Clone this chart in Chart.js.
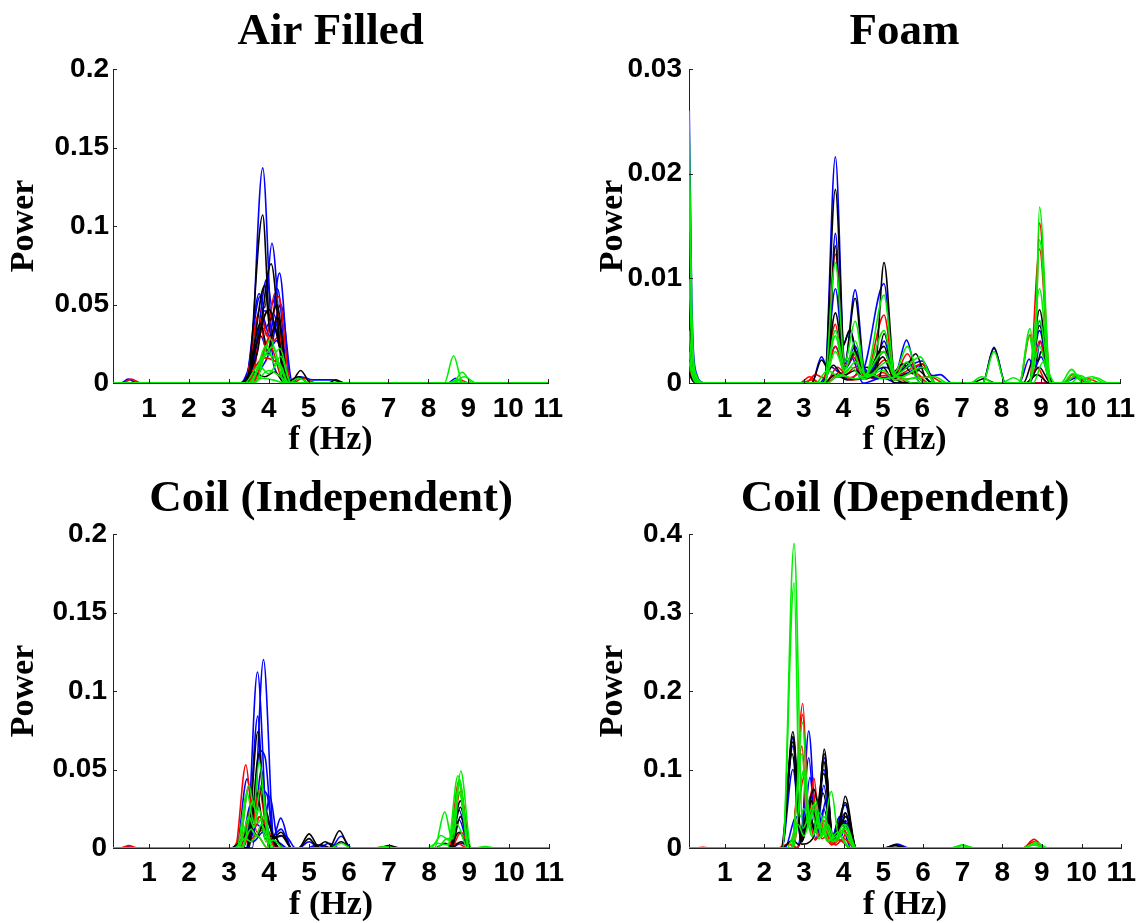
<!DOCTYPE html>
<html>
<head>
<meta charset="utf-8">
<title>Power spectra</title>
<script src="https://cdn.jsdelivr.net/npm/chart.js@4.4.0/dist/chart.umd.min.js"></script>
<style>
  html, body { margin: 0; padding: 0; background: #fff; }
  body { width: 1144px; height: 923px; position: relative; overflow: hidden; }
  canvas { position: absolute; }
</style>
</head>
<body>
<canvas id="airFilled" width="572" height="461" style="left:0;top:0"></canvas>
<canvas id="foam" width="568" height="461" style="left:576px;top:0"></canvas>
<canvas id="coilIndep" width="572" height="461" style="left:0;top:462px"></canvas>
<canvas id="coilDep" width="568" height="461" style="left:576px;top:462px"></canvas>
<script>
// Frequency axis
const xTickValues = [1, 2, 3, 4, 5, 6, 7, 8, 9, 10, 11];
const xTickLabels = ['1', '2', '3', '4', '5', '6', '7', '8', '9', '10', '11'];

// Power axes
const airTicks = [0, 0.05, 0.1, 0.15, 0.2];
const airTickLabels = ['0', '0.05', '0.1', '0.15', '0.2'];
const foamTicks = [0, 0.01, 0.02, 0.03];
const foamTickLabels = ['0', '0.01', '0.02', '0.03'];
const indepTicks = [0, 0.05, 0.1, 0.15, 0.2];
const indepTickLabels = ['0', '0.05', '0.1', '0.15', '0.2'];
const depTicks = [0, 0.1, 0.2, 0.3, 0.4];
const depTickLabels = ['0', '0.1', '0.2', '0.3', '0.4'];

// Spectra, [f (Hz), power] — Air Filled
const airBlue = [
  [[0.1,0],[0.3,0],[0.48,0.0025],[0.7,0],[3.5,0],[3.85,0.137],[4.12,0.012],[4.35,0.004],[4.6,0],[11,0]],
  [[0.1,0],[3.4,0],[3.76,0.057],[3.9,0.048],[4.08,0.089],[4.4,0],[11,0]],
  [[0.1,0],[3.5,0],[3.85,0.042],[4.02,0.03],[4.27,0.07],[4.55,0],[11,0]],
  [[0.1,0],[3.55,0],[3.95,0.066],[4.08,0.05],[4.22,0.06],[4.5,0],[11,0]],
  [[0.1,0],[3.3,0],[3.65,0.022],[3.9,0.046],[4.15,0.036],[4.55,0],[4.8,0.004],[5.1,0.002],[5.6,0.002],[5.9,0],[11,0]],
  [[0.1,0],[3.5,0],[3.9,0.013],[4.2,0.027],[4.5,0],[8.5,0],[8.68,0.003],[8.9,0],[11,0]],
  [[0.1,0],[3.45,0],[3.8,0.03],[4.0,0.018],[4.3,0.05],[4.6,0],[11,0]],
  [[0.1,0],[3.4,0],[3.78,0.055],[3.92,0.035],[4.12,0.044],[4.45,0],[11,0]]
];
const airRed = [
  [[0.1,0],[0.35,0],[0.55,0.0025],[0.8,0],[3.4,0],[3.79,0.047],[3.95,0.03],[4.15,0.057],[4.45,0],[11,0]],
  [[0.1,0],[3.5,0],[3.95,0.045],[4.06,0.04],[4.25,0.055],[4.55,0],[11,0]],
  [[0.1,0],[3.3,0],[3.6,0.006],[3.85,0.035],[4.1,0.021],[4.4,0],[11,0]],
  [[0.1,0],[3.6,0],[4.05,0.03],[4.12,0.027],[4.22,0.029],[4.5,0],[8.6,0],[8.8,0.002],[9.0,0],[11,0]],
  [[0.1,0],[3.3,0],[3.9,0.016],[4.3,0.011],[4.6,0],[4.85,0.003],[5.2,0],[11,0]],
  [[0.1,0],[3.4,0],[3.75,0.043],[3.95,0.02],[4.2,0.04],[4.5,0],[11,0]]
];
const airBlack = [
  [[0.1,0],[3.45,0],[3.85,0.107],[4.03,0.04],[4.2,0.05],[4.5,0],[11,0]],
  [[0.1,0],[3.3,0],[3.55,0.008],[3.72,0.02],[4.06,0.076],[4.4,0],[11,0]],
  [[0.1,0],[3.4,0],[3.75,0.03],[4.0,0.047],[4.3,0.02],[4.55,0],[4.8,0.008],[5.05,0],[11,0]],
  [[0.1,0],[3.4,0],[3.8,0.038],[3.98,0.02],[4.15,0.035],[4.5,0],[5.5,0],[5.68,0.002],[5.9,0],[11,0]],
  [[0.1,0],[3.35,0],[3.6,0.007],[3.9,0.004],[4.15,0.007],[4.4,0],[4.75,0.004],[5.0,0],[11,0]],
  [[0.1,0],[3.45,0],[3.9,0.062],[4.05,0.03],[4.22,0.042],[4.5,0],[11,0]]
];
const airGreen = [
  [[0.1,0],[3.65,0],[4.05,0.028],[4.18,0.02],[4.28,0.022],[4.55,0],[8.4,0],[8.63,0.0174],[8.86,0],[11,0]],
  [[0.1,0],[3.5,0],[3.85,0.015],[4.1,0.023],[4.4,0],[8.6,0],[8.85,0.0068],[9.1,0],[11,0]],
  [[0.1,0],[3.5,0],[3.92,0.018],[4.2,0.015],[4.5,0],[4.75,0.003],[5.05,0],[11,0]],
  [[0.1,0],[3.4,0],[3.75,0.011],[4.0,0.006],[4.25,0.013],[4.5,0],[8.6,0],[8.9,0.004],[9.2,0],[11,0]],
  [[0.1,0],[3.6,0],[4.0,0.008],[4.3,0.004],[4.5,0],[11,0]],
  [[0.1,0],[3.6,0],[3.82,0.003],[4.1,0.002],[4.4,0],[8.5,0],[8.72,0.002],[8.95,0],[11,0]],
  [[0.1,0],[3.55,0],[3.95,0.024],[4.15,0.012],[4.3,0.017],[4.55,0],[11,0]]
];

// Foam
const foamBlue = [
  [[0.1,0.028],[0.17,0.008],[0.28,0.001],[0.5,0],[3.52,0],[3.8,0.0216],[4.04,0.0018],[4.3,0.0089],[4.56,0.0008],[4.8,0.0015],[5.03,0.004],[5.3,0.0008],[5.6,0.0041],[5.85,0.0012],[6.0,0.0018],[6.34,0],[7.52,0],[7.81,0.0034],[8.1,0],[8.7,0],[8.96,0.005],[9.24,0],[11,0]],
  [[0.1,0.012],[0.17,0.004],[0.3,0.0005],[0.5,0],[3.2,0],[3.45,0.0025],[3.6,0.0015],[3.8,0.0143],[3.98,0.0035],[4.17,0.005],[4.45,0.001],[5.03,0.0095],[5.28,0.001],[6.0,0.0021],[6.34,0],[8.7,0],[8.96,0.0059],[9.24,0],[11,0]],
  [[0.1,0.006],[0.18,0.002],[0.3,0.0003],[0.5,0],[3.52,0],[3.8,0.009],[4.04,0.0015],[4.3,0.0035],[4.56,0.0006],[5.03,0.003],[5.3,0.0006],[5.65,0.002],[5.95,0],[8.45,0],[8.7,0.0023],[8.83,0.0012],[8.98,0.004],[9.24,0],[11,0]],
  [[0.1,0.004],[0.18,0.0012],[0.3,0.0002],[0.5,0],[3.5,0],[3.8,0.0035],[4.05,0.0014],[4.35,0.003],[4.6,0.0009],[5.05,0.0015],[5.5,0.0007],[6.0,0.0018],[6.25,0.0007],[6.45,0.0008],[6.75,0],[8.7,0],[9.0,0.0025],[9.26,0],[11,0]],
  [[0.1,0.003],[0.18,0.001],[0.3,0],[3.4,0],[3.7,0.0015],[3.95,0.0009],[4.2,0.0025],[4.5,0],[5.0,0.0005],[5.35,0],[9.55,0],[9.9,0.0005],[10.25,0],[11,0]],
  [[0.1,0.002],[0.2,0.0005],[0.35,0],[3.55,0],[3.85,0.0006],[4.2,0.0004],[4.5,0.0015],[4.75,0.0004],[5.8,0.001],[6.15,0],[11,0]]
];
const foamRed = [
  [[0.1,0.0075],[0.18,0.002],[0.3,0.0003],[0.5,0],[2.9,0],[3.15,0.0006],[3.4,0],[3.52,0],[3.8,0.0123],[4.04,0.0015],[4.3,0.0028],[4.56,0.0006],[5.03,0.0065],[5.3,0.0007],[5.62,0.0028],[5.9,0.0005],[6.15,0],[8.45,0],[8.72,0.0046],[8.84,0.0025],[8.96,0.0153],[9.24,0],[9.55,0],[9.8,0.0008],[10.1,0],[11,0]],
  [[0.1,0.004],[0.18,0.0012],[0.3,0.0002],[0.5,0],[3.05,0],[3.3,0.0008],[3.5,0.0005],[3.8,0.0056],[4.0,0.0014],[4.25,0.0025],[4.5,0.0007],[5.03,0.003],[5.3,0.0007],[6.0,0.0018],[6.34,0],[8.7,0],[8.96,0.0128],[9.24,0],[11,0]],
  [[0.1,0.002],[0.2,0.0005],[0.35,0],[3.5,0],[3.8,0.0035],[4.05,0.0008],[4.3,0.0015],[4.6,0.0005],[5.05,0.0022],[5.35,0.0005],[5.8,0.001],[6.15,0],[8.7,0],[8.96,0.004],[9.24,0],[9.55,0],[9.85,0.0006],[10.15,0],[11,0]],
  [[0.1,0.0015],[0.2,0.0004],[0.35,0],[3.55,0],[3.85,0.0015],[4.15,0.0005],[4.5,0.001],[4.75,0.0005],[5.0,0.001],[5.3,0.0003],[6.2,0.0006],[6.55,0],[8.65,0],[8.9,0.0015],[9.15,0],[11,0]],
  [[0.1,0.001],[0.2,0.0002],[0.35,0],[2.95,0],[3.2,0.0003],[3.45,0],[3.6,0],[3.9,0.001],[4.2,0.0003],[5.3,0.0008],[5.65,0],[9.95,0],[10.2,0.0004],[10.5,0],[11,0]]
];
const foamBlack = [
  [[0.1,0.008],[0.18,0.0025],[0.3,0.0004],[0.5,0],[3.52,0],[3.8,0.0185],[4.04,0.002],[4.3,0.0081],[4.54,0.001],[4.8,0.0012],[5.03,0.0115],[5.3,0.001],[5.6,0.0016],[5.83,0.0028],[6.08,0.0005],[6.35,0],[7.52,0],[7.81,0.0033],[8.1,0],[8.7,0],[8.96,0.007],[9.24,0],[11,0]],
  [[0.1,0.005],[0.18,0.0015],[0.3,0.0002],[0.5,0],[3.2,0],[3.45,0.0022],[3.6,0.0015],[3.8,0.0131],[3.98,0.0035],[4.17,0.0051],[4.4,0.0014],[4.6,0.0015],[4.8,0.0008],[5.03,0.0047],[5.3,0.0005],[5.65,0],[8.7,0],[8.96,0.0055],[9.24,0],[11,0]],
  [[0.1,0.003],[0.18,0.0009],[0.3,0],[3.52,0],[3.8,0.0067],[4.04,0.0015],[4.3,0.003],[4.55,0.0008],[5.03,0.0035],[5.25,0.001],[5.5,0.0018],[5.75,0.0009],[6.0,0.0015],[6.34,0],[8.55,0],[8.84,0.0025],[8.92,0.0021],[9.0,0.003],[9.3,0],[11,0]],
  [[0.1,0.002],[0.2,0.0005],[0.35,0],[3.45,0],[3.75,0.0017],[4.0,0.0007],[4.3,0.0012],[4.6,0.0004],[5.0,0.0025],[5.28,0.0005],[5.9,0.0012],[6.25,0],[8.65,0],[8.95,0.0015],[9.25,0],[11,0]],
  [[0.1,0.001],[0.2,0.0002],[0.35,0],[3.5,0],[3.8,0.0008],[4.1,0.0003],[4.8,0.0006],[4.9,0.0005],[5.0,0.0015],[5.3,0],[7.25,0],[7.55,0.0004],[7.85,0],[8.6,0],[8.9,0.0008],[9.2,0],[11,0]]
];
const foamGreen = [
  [[0.1,0.026],[0.17,0.007],[0.28,0.0008],[0.5,0],[3.52,0],[3.8,0.0115],[4.04,0.002],[4.3,0.0059],[4.56,0.0008],[5.03,0.0084],[5.3,0.001],[5.62,0.0035],[5.9,0.0006],[6.15,0],[7.52,0],[7.81,0.003],[8.1,0],[8.45,0],[8.72,0.0052],[8.84,0.0025],[8.96,0.0168],[9.24,0],[9.5,0],[9.77,0.0013],[10.0,0.0004],[10.3,0.0006],[10.6,0],[11,0]],
  [[0.1,0.02],[0.17,0.005],[0.28,0.0006],[0.5,0],[3.52,0],[3.8,0.005],[4.05,0.0014],[4.3,0.004],[4.56,0.0007],[5.03,0.005],[5.3,0.0007],[5.95,0.0025],[6.3,0],[8.45,0],[8.7,0.0045],[8.83,0.0025],[8.96,0.0137],[9.24,0],[9.55,0],[9.8,0.0009],[10.1,0],[11,0]],
  [[0.1,0.01],[0.18,0.003],[0.3,0.0004],[0.5,0],[3.52,0],[3.8,0.0045],[4.02,0.0012],[4.25,0.003],[4.5,0.0006],[5.03,0.003],[5.3,0.0006],[5.6,0.002],[5.95,0],[8.7,0],[8.96,0.009],[9.24,0],[9.75,0],[10.0,0.0007],[10.3,0],[11,0]],
  [[0.1,0.005],[0.18,0.0015],[0.3,0.0002],[0.5,0],[3.5,0],[3.8,0.003],[4.05,0.001],[4.3,0.002],[4.6,0.0006],[5.1,0.002],[5.4,0.0005],[6.0,0.0015],[6.35,0],[7.2,0],[7.5,0.0006],[7.8,0],[8.7,0],[8.96,0.006],[9.24,0],[9.6,0],[9.9,0.0008],[10.2,0],[11,0]],
  [[0.1,0.003],[0.18,0.0008],[0.3,0],[3.3,0],[3.6,0.0012],[3.9,0.0006],[4.2,0.0015],[4.5,0.0004],[5.0,0.0012],[5.3,0.0003],[6.3,0.0006],[6.65,0],[8.7,0],[8.96,0.0035],[9.24,0],[10.1,0],[10.4,0.0005],[10.7,0],[11,0]],
  [[0.1,0.002],[0.2,0.0005],[0.35,0],[3.6,0],[3.9,0.0008],[4.3,0.0004],[4.7,0.0008],[5.0,0.0004],[5.4,0.0006],[5.75,0],[8.0,0],[8.3,0.0005],[8.6,0],[8.8,0],[9.05,0.002],[9.35,0],[11,0]]
];

// Coil (Independent)
const indepBlue = [
  [[0.1,0],[0.3,0],[0.45,0.001],[0.6,0],[3.58,0],[3.86,0.12],[4.14,0],[11,0]],
  [[0.1,0],[3.43,0],[3.71,0.112],[3.99,0],[11,0]],
  [[0.1,0],[3.44,0],[3.72,0.084],[3.84,0.04],[3.95,0.034],[4.12,0.008],[4.29,0.019],[4.56,0],[11,0]],
  [[0.1,0],[3.18,0],[3.45,0.044],[3.6,0.025],[3.76,0.062],[3.9,0.058],[4.1,0.008],[4.3,0.012],[4.56,0],[4.74,0],[5.0,0.004],[5.26,0],[5.54,0],[5.8,0.0075],[6.06,0],[11,0]],
  [[0.1,0],[3.28,0],[3.55,0.028],[3.66,0.022],[3.8,0.05],[4.02,0.006],[4.4,0.008],[4.66,0],[5.24,0],[5.5,0.003],[5.76,0],[8.49,0],[8.75,0.024],[9.01,0],[11,0]],
  [[0.1,0],[3.44,0],[3.7,0.015],[3.85,0.012],[4.02,0.033],[4.2,0.006],[4.4,0],[8.54,0],[8.8,0.003],[9.06,0],[11,0]],
  [[0.1,0],[3.14,0],[3.4,0.006],[3.6,0.004],[3.85,0.01],[4.05,0.004],[4.2,0.004],[4.46,0],[4.94,0],[5.2,0.002],[5.46,0],[8.49,0],[8.75,0.018],[9.01,0],[11,0]]
];
const indepRed = [
  [[0.1,0],[0.3,0],[0.5,0.0015],[0.7,0],[3.15,0],[3.42,0.053],[3.6,0.018],[3.75,0.037],[4.02,0],[8.49,0],[8.75,0.041],[9.01,0],[11,0]],
  [[0.1,0],[3.24,0],[3.5,0.04],[3.65,0.018],[3.8,0.02],[4.06,0],[8.49,0],[8.75,0.043],[9.01,0],[11,0]],
  [[0.1,0],[3.34,0],[3.6,0.015],[3.68,0.014],[3.75,0.02],[4.0,0.01],[4.26,0],[8.54,0],[8.8,0.01],[9.06,0],[11,0]],
  [[0.1,0],[3.09,0],[3.35,0.01],[3.5,0.005],[3.7,0.008],[3.96,0],[6.64,0],[6.9,0.001],[7.16,0],[8.44,0],[8.7,0.003],[8.96,0],[11,0]],
  [[0.1,0],[3.29,0],[3.55,0.025],[3.7,0.01],[3.9,0.012],[4.16,0],[8.52,0],[8.78,0.036],[9.04,0],[11,0]]
];
const indepBlack = [
  [[0.1,0],[3.45,0],[3.72,0.074],[3.85,0.03],[3.95,0.022],[4.2,0],[4.74,0],[5.0,0.009],[5.26,0],[5.5,0],[5.76,0.011],[6.02,0],[8.52,0],[8.78,0.03],[9.04,0],[11,0]],
  [[0.1,0],[3.49,0],[3.75,0.06],[3.88,0.025],[4.0,0.015],[4.26,0],[4.74,0],[5.0,0.006],[5.2,0.001],[5.4,0.004],[5.66,0],[8.52,0],[8.78,0.026],[9.04,0],[11,0]],
  [[0.1,0],[3.34,0],[3.6,0.03],[3.7,0.024],[3.8,0.04],[4.02,0.005],[4.3,0.008],[4.56,0],[5.54,0],[5.8,0.004],[6.06,0],[8.14,0],[8.4,0.003],[8.57,0.001],[8.78,0.02],[9.04,0],[11,0]],
  [[0.1,0],[3.04,0],[3.3,0.005],[3.55,0.013],[3.7,0.008],[3.85,0.015],[4.05,0.005],[4.3,0.01],[4.56,0],[6.74,0],[7.0,0.0015],[7.26,0],[8.49,0],[8.75,0.01],[9.01,0],[11,0]],
  [[0.1,0],[3.44,0],[3.7,0.035],[3.9,0.006],[4.1,0.008],[4.36,0],[5.04,0],[5.3,0.002],[5.56,0],[8.54,0],[8.8,0.004],[9.06,0],[11,0]]
];
const indepGreen = [
  [[0.1,0],[3.24,0],[3.5,0.04],[3.62,0.026],[3.75,0.055],[4.01,0],[8.19,0],[8.45,0.006],[8.6,0.006],[8.79,0.049],[9.05,0],[11,0]],
  [[0.1,0],[3.19,0],[3.45,0.035],[3.62,0.016],[3.8,0.04],[4.06,0],[8.46,0],[8.72,0.046],[8.98,0],[11,0]],
  [[0.1,0],[3.34,0],[3.6,0.03],[3.72,0.016],[3.85,0.02],[4.11,0],[8.13,0],[8.39,0.023],[8.57,0.006],[8.75,0.044],[9.01,0],[11,0]],
  [[0.1,0],[3.24,0],[3.5,0.02],[3.62,0.013],[3.75,0.025],[3.92,0.004],[4.1,0.005],[4.36,0],[8.04,0],[8.3,0.008],[8.5,0.005],[8.75,0.035],[9.01,0],[11,0]],
  [[0.1,0],[3.29,0],[3.55,0.012],[3.68,0.008],[3.8,0.015],[4.06,0],[5.54,0],[5.8,0.003],[6.06,0],[7.94,0],[8.2,0.003],[8.45,0.002],[8.7,0.015],[8.96,0],[11,0]],
  [[0.1,0],[3.14,0],[3.4,0.006],[3.55,0.004],[3.7,0.008],[3.96,0],[6.64,0],[6.9,0.001],[7.16,0],[9.14,0],[9.4,0.001],[9.66,0],[11,0]]
];

// Coil (Dependent)
const depBlue = [
  [[0.1,0],[2.44,0],[2.72,0.14],[2.92,0.01],[3.12,0.149],[3.32,0.02],[3.51,0.115],[3.74,0.01],[4.04,0.055],[4.32,0],[5.05,0],[5.35,0.005],[5.65,0],[11,0]],
  [[0.1,0],[2.44,0],[2.72,0.13],[2.92,0.015],[3.12,0.115],[3.3,0.025],[3.5,0.1],[3.74,0.01],[4.04,0.045],[4.32,0],[11,0]],
  [[0.1,0],[2.52,0],[2.8,0.04],[2.96,0.01],[3.15,0.09],[3.32,0.02],[3.5,0.08],[3.7,0.012],[3.9,0.04],[3.97,0.03],[4.04,0.032],[4.32,0],[11,0]],
  [[0.1,0],[2.44,0],[2.72,0.1],[2.94,0.01],[3.2,0.07],[3.38,0.02],[3.55,0.06],[3.72,0.015],[3.9,0.04],[4.18,0],[11,0]],
  [[0.1,0],[2.82,0],[3.1,0.06],[3.3,0.012],[3.5,0.05],[3.7,0.008],[3.85,0.02],[3.95,0.015],[4.05,0.035],[4.32,0],[11,0]]
];
const depRed = [
  [[0.1,0],[0.3,0],[0.45,0.001],[0.6,0],[2.69,0],[2.97,0.184],[3.12,0.04],[3.25,0.089],[3.4,0.025],[3.5,0.035],[3.75,0.008],[4.0,0.023],[4.28,0],[8.52,0],[8.8,0.011],[9.08,0],[11,0]],
  [[0.1,0],[2.69,0],[2.97,0.17],[3.1,0.04],[3.2,0.075],[3.38,0.015],[3.5,0.03],[3.75,0.006],[4.0,0.02],[4.28,0],[8.52,0],[8.8,0.008],[9.08,0],[11,0]],
  [[0.1,0],[2.67,0],[2.95,0.13],[3.08,0.03],[3.2,0.06],[3.35,0.015],[3.5,0.025],[3.7,0.006],[3.85,0.012],[3.95,0.009],[4.05,0.018],[4.32,0],[11,0]],
  [[0.1,0],[2.72,0],[3.0,0.09],[3.15,0.04],[3.3,0.07],[3.45,0.012],[3.6,0.015],[3.8,0.004],[4.0,0.012],[4.28,0],[11,0]],
  [[0.1,0],[2.34,0],[2.6,0.005],[2.8,0.001],[2.84,0],[3.1,0.04],[3.28,0.01],[3.45,0.02],[3.7,0.004],[3.9,0.01],[4.16,0],[11,0]]
];
const depBlack = [
  [[0.1,0],[2.44,0],[2.72,0.148],[2.94,0.01],[3.2,0.06],[3.33,0.03],[3.51,0.126],[3.72,0.012],[3.85,0.012],[4.04,0.066],[4.32,0],[5.02,0],[5.3,0.004],[5.58,0],[11,0]],
  [[0.1,0],[2.44,0],[2.72,0.142],[2.94,0.008],[3.15,0.04],[3.3,0.02],[3.51,0.12],[3.74,0.01],[4.04,0.058],[4.32,0],[11,0]],
  [[0.1,0],[2.44,0],[2.72,0.135],[2.94,0.008],[3.25,0.075],[3.38,0.05],[3.5,0.11],[3.72,0.014],[3.9,0.03],[3.96,0.028],[4.04,0.045],[4.32,0],[5.02,0],[5.3,0.003],[5.58,0],[11,0]],
  [[0.1,0],[2.42,0],[2.7,0.12],[2.94,0.005],[3.22,0.012],[3.5,0.095],[3.74,0.01],[4.05,0.04],[4.32,0],[11,0]],
  [[0.1,0],[2.44,0],[2.72,0.01],[2.88,0.004],[3.1,0.05],[3.28,0.02],[3.48,0.07],[3.72,0.01],[4.0,0.035],[4.28,0],[11,0]]
];
const depGreen = [
  [[0.1,0],[2.46,0],[2.75,0.388],[2.97,0.025],[3.25,0.055],[3.45,0.015],[3.69,0.072],[3.88,0.015],[4.05,0.03],[4.32,0],[6.7,0],[7.0,0.004],[7.3,0],[11,0]],
  [[0.1,0],[2.46,0],[2.75,0.338],[2.9,0.04],[3.0,0.05],[3.2,0.015],[3.4,0.045],[3.62,0.01],[4.0,0.02],[4.28,0],[8.5,0],[8.8,0.004],[9.1,0],[11,0]],
  [[0.1,0],[2.69,0],[2.97,0.16],[3.13,0.03],[3.3,0.06],[3.45,0.015],[3.6,0.03],[3.8,0.008],[4.05,0.025],[4.32,0],[6.7,0],[7.0,0.003],[7.3,0],[11,0]],
  [[0.1,0],[2.67,0],[2.95,0.12],[3.1,0.03],[3.25,0.05],[3.38,0.025],[3.5,0.04],[3.75,0.008],[4.0,0.03],[4.28,0],[8.55,0],[8.85,0.007],[9.15,0],[11,0]],
  [[0.1,0],[2.57,0],[2.85,0.03],[3.0,0.015],[3.2,0.045],[3.38,0.012],[3.55,0.025],[3.72,0.008],[3.9,0.015],[4.18,0],[11,0]],
  [[0.1,0],[2.72,0],[3.0,0.1],[3.2,0.015],[3.4,0.03],[3.6,0.008],[3.85,0.02],[4.13,0],[8.5,0],[8.8,0.005],[9.1,0],[11,0]]
];

const COLORS = { blue: '#0000ff', red: '#ff0000', black: '#000000', green: '#00ee00' };
const TICK_FONT = { family: "'Liberation Sans', Arial, sans-serif", size: 28, weight: 'bold', lineHeight: 1.2 };
const LABEL_FONT = { family: "'Liberation Serif', 'Times New Roman', serif", size: 34, weight: 'bold', lineHeight: 1 };
const TITLE_FONT = { family: "'Liberation Serif', 'Times New Roman', serif", size: 45, weight: 'bold', lineHeight: 1.2 };

// Short inward tick marks on both axes
const innerTicks = {
  id: 'innerTicks',
  afterDraw(chart) {
    const { ctx, chartArea, scales } = chart;
    ctx.save();
    ctx.strokeStyle = '#222';
    ctx.lineWidth = 1;
    ctx.beginPath();
    scales.x.ticks.forEach(t => {
      const px = Math.round(scales.x.getPixelForValue(t.value)) + 0.5;
      ctx.moveTo(px, chartArea.bottom);
      ctx.lineTo(px, chartArea.bottom - 4);
    });
    scales.y.ticks.forEach(t => {
      const py = Math.round(scales.y.getPixelForValue(t.value)) + 0.5;
      ctx.moveTo(chartArea.left, py);
      ctx.lineTo(chartArea.left + 4, py);
    });
    ctx.stroke();
    ctx.restore();
  }
};

function toDatasets(groups) {
  const sets = [];
  groups.forEach(([color, series]) => {
    series.forEach(pts => {
      sets.push({
        data: pts.map(([x, y]) => ({ x, y })),
        borderColor: COLORS[color],
        borderWidth: 1.6,
        pointRadius: 0,
        fill: false,
        cubicInterpolationMode: 'monotone'
      });
    });
  });
  return sets;
}

function makePanel(id, title, groups, yMax, yTicks, yLabels, g) {
  return new Chart(document.getElementById(id), {
    type: 'line',
    data: { datasets: toDatasets(groups) },
    plugins: [innerTicks],
    options: {
      responsive: false,
      animation: false,
      devicePixelRatio: 1,
      events: [],
      layout: { padding: { left: 0, right: g.right, top: 0, bottom: 0 } },
      plugins: {
        legend: { display: false },
        tooltip: { enabled: false },
        title: {
          display: true,
          text: title,
          color: '#000',
          font: TITLE_FONT,
          fullSize: false,
          padding: { top: g.titleTop, bottom: g.titleBottom }
        }
      },
      scales: {
        x: {
          type: 'linear',
          min: 0.1,
          max: 11,
          afterBuildTicks: s => { s.ticks = xTickValues.map(v => ({ value: v })); },
          afterFit: s => { s.height = g.xHeight; },
          grid: { display: false, drawTicks: false },
          border: { display: true, color: '#222', width: 1 },
          ticks: {
            color: '#000',
            font: TICK_FONT,
            padding: g.xPad,
            maxRotation: 0,
            autoSkip: false,
            callback: (v, i) => xTickLabels[i]
          },
          title: {
            display: true,
            text: 'f (Hz)',
            color: '#000',
            font: LABEL_FONT,
            padding: { top: 0, bottom: g.xTitleBottom }
          }
        },
        y: {
          type: 'linear',
          min: 0,
          max: yMax,
          afterBuildTicks: s => { s.ticks = yTicks.map(v => ({ value: v })); },
          afterFit: s => { s.width = g.yWidth; },
          grid: { display: false, drawTicks: false },
          border: { display: true, color: '#222', width: 1 },
          ticks: {
            color: '#000',
            font: TICK_FONT,
            padding: g.yPad,
            autoSkip: false,
            callback: (v, i) => yLabels[i]
          },
          title: {
            display: true,
            text: 'Power',
            color: '#000',
            font: LABEL_FONT,
            padding: { top: g.yTitlePad, bottom: 0 }
          }
        }
      }
    }
  });
}

makePanel('airFilled', 'Air Filled',
  [['green', airGreen], ['black', airBlack], ['red', airRed], ['blue', airBlue]],
  0.2, airTicks, airTickLabels,
  { right: 21, titleTop: 5, titleBottom: 10, xHeight: 78, xPad: 9, xTitleBottom: 4, yWidth: 113, yPad: 4, yTitlePad: 7 });

makePanel('foam', 'Foam',
  [['green', foamGreen], ['black', foamBlack], ['red', foamRed], ['blue', foamBlue]],
  0.03, foamTicks, foamTickLabels,
  { right: 16, titleTop: 5, titleBottom: 10, xHeight: 78, xPad: 9, xTitleBottom: 4, yWidth: 113, yPad: 7, yTitlePad: 20 });

makePanel('coilIndep', 'Coil (Independent)',
  [['green', indepGreen], ['black', indepBlack], ['red', indepRed], ['blue', indepBlue]],
  0.2, indepTicks, indepTickLabels,
  { right: 21, titleTop: 10, titleBottom: 8, xHeight: 75, xPad: 8, xTitleBottom: 1, yWidth: 113, yPad: 6, yTitlePad: 7 });

makePanel('coilDep', 'Coil (Dependent)',
  [['green', depGreen], ['black', depBlack], ['red', depRed], ['blue', depBlue]],
  0.4, depTicks, depTickLabels,
  { right: 16, titleTop: 10, titleBottom: 8, xHeight: 75, xPad: 8, xTitleBottom: 1, yWidth: 113, yPad: 7, yTitlePad: 20 });
</script>
</body>
</html>
